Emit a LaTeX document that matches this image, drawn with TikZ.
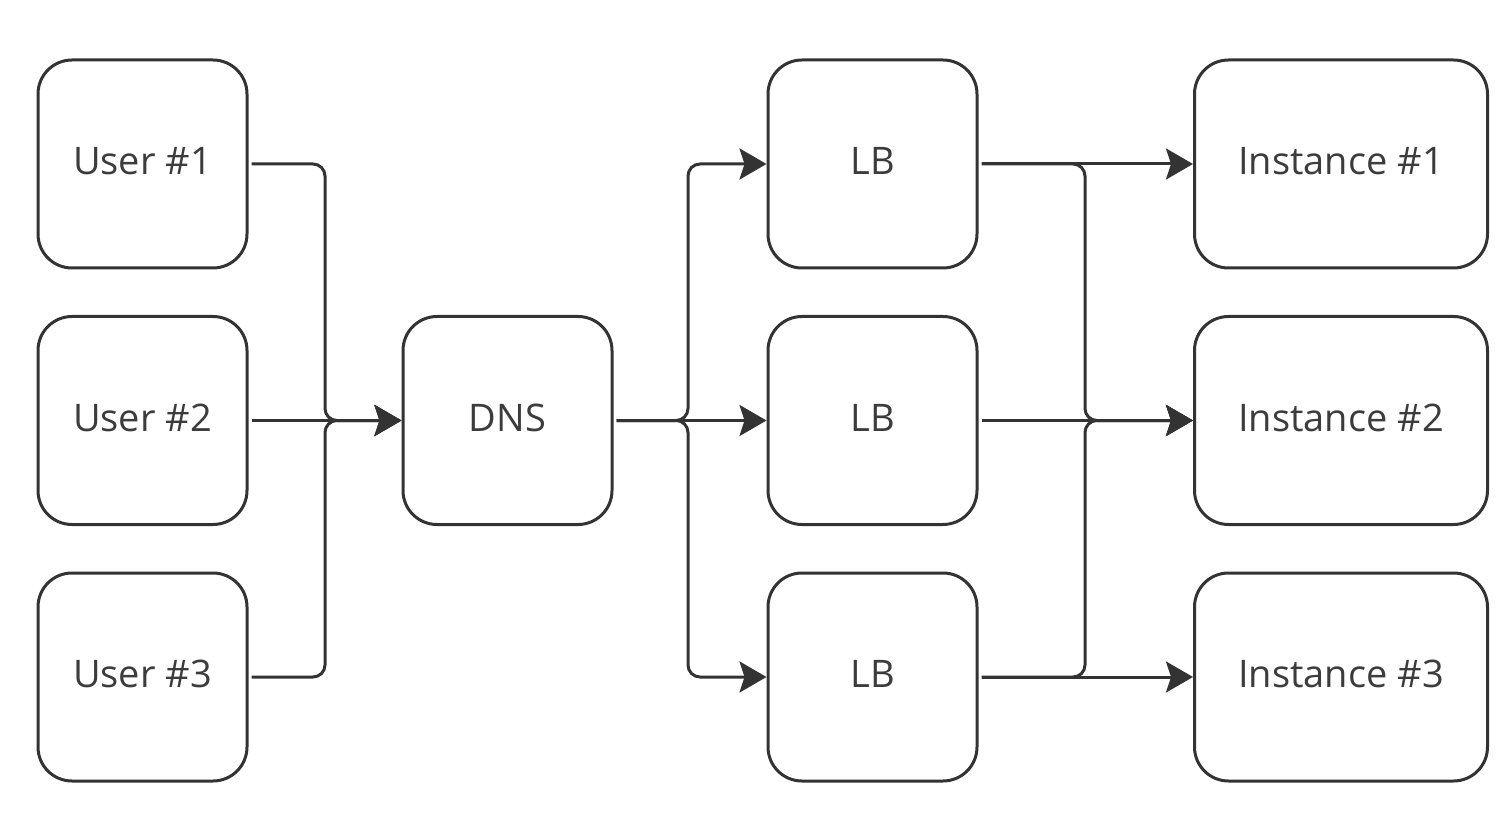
\documentclass[tikz,border=0pt]{standalone}
\usepackage{fontspec}
\setmainfont{Open Sans}
\usetikzlibrary{arrows.meta}
\definecolor{ink}{HTML}{333333}
\definecolor{txt}{HTML}{3C3C3C}
\tikzset{
    box/.style={draw=ink, line width=3pt, rounded corners=34pt,
        minimum width=209pt, minimum height=208pt, text=txt,
        text height=27pt, text depth=6pt,
        font=\fontsize{38}{40}\selectfont},
    widebox/.style={box, minimum width=293pt},
    conn/.style={draw=ink, line width=3pt, rounded corners=12pt,
        shorten <=3pt, -{Stealth[length=27pt,width=31pt,inset=5pt]}}
}
\begin{document}
\begin{tikzpicture}[x=1pt,y=-1pt]
    \useasboundingbox (0,0) rectangle (1508,818);
    \node[box] (u1) at (142.5,164) {User \#1};
    \node[box] (u2) at (142.5,420.5) {User \#2};
    \node[box] (u3) at (142.5,677) {User \#3};
    \node[box] (dns) at (507.5,420.5) {DNS};
    \node[box] (lb1) at (872.5,164) {LB};
    \node[box] (lb2) at (872.5,420.5) {LB};
    \node[box] (lb3) at (872.5,677) {LB};
    \node[widebox] (in1) at (1341,164) {Instance \#1};
    \node[widebox] (in2) at (1341,420.5) {Instance \#2};
    \node[widebox] (in3) at (1341,677) {Instance \#3};
    \coordinate (jl) at (325,420.5);
    \coordinate (jm) at (688,420.5);
    \coordinate (jr) at (1085,420.5);
    % users to dns
    \draw[conn] (u1.east) -| (jl) -- (dns.west);
    \draw[conn] (u3.east) -| (jl) -- (dns.west);
    \draw[conn] (u2.east) -- (dns.west);
    % dns to load balancers
    \draw[conn] (dns.east) -- (jm) |- (lb1.west);
    \draw[conn] (dns.east) -- (jm) |- (lb3.west);
    \draw[conn] (dns.east) -- (lb2.west);
    % load balancers to instances
    \draw[conn] (lb1.east) -- (in1.west);
    \draw[conn] (lb2.east) -- (in2.west);
    \draw[conn] (lb3.east) -- (in3.west);
    \draw[conn] (lb1.east) -| (jr) -- (in2.west);
    \draw[conn] (lb3.east) -| (jr) -- (in2.west);
\end{tikzpicture}
\end{document}
